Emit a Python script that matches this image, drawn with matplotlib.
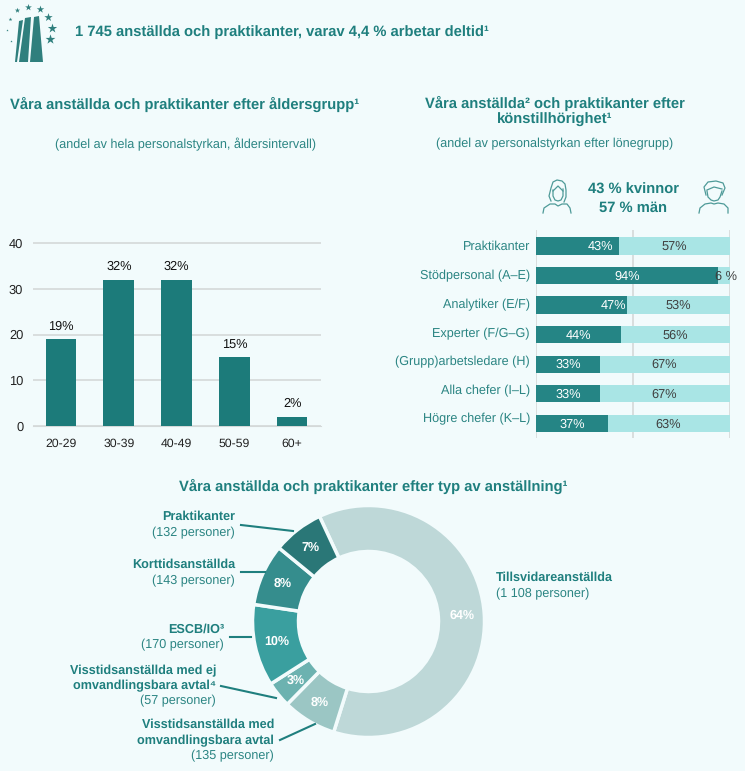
import matplotlib
matplotlib.use('Agg')
import matplotlib.pyplot as plt
from matplotlib.patches import Polygon
import numpy as np

plt.rcParams['font.family'] = ['Liberation Sans', 'DejaVu Sans']
plt.rcParams['text.hinting'] = 'none'
plt.rcParams['text.hinting_factor'] = 8

age_groups = ['20-29', '30-39', '40-49', '50-59', '60+']
age_values = [19, 32, 32, 15, 2]

grades = ['Praktikanter', 'Stödpersonal (A–E)', 'Analytiker (E/F)', 'Experter (F/G–G)',
          '(Grupp)arbetsledare (H)', 'Alla chefer (I–L)', 'Högre chefer (K–L)']
women = [43, 94, 47, 44, 33, 33, 37]
men = [57, 6, 53, 56, 67, 67, 63]
women_labels = ['43%', '94%', '47%', '44%', '33%', '33%', '37%']
men_labels = ['57%', '6 %', '53%', '56%', '67%', '67%', '63%']

# slice sizes as drawn in the picture, clockwise from the top
contract_shares = [61.8, 7.5, 3.6, 11.4, 8.6, 7.1]
contract_labels = ['64%', '8%', '3%', '10%', '8%', '7%']

W, H = 745, 771
BG = '#F2FBFC'
TEAL = '#1F7F7E'
TEXT = '#2B8583'
DARK = '#1C7B7A'
HEAD = 10.6
SMALL = 9.1

fig = plt.figure(figsize=(W / 100, H / 100), dpi=100, facecolor=BG)


def axes_px(left, top, right, bottom):
    return fig.add_axes([left / W, 1 - bottom / H, (right - left) / W, (bottom - top) / H])


# overlay in pixel coordinates for titles and icons
ov = fig.add_axes([0, 0, 1, 1], zorder=5)
ov.set_xlim(0, W)
ov.set_ylim(H, 0)
ov.axis('off')
ov.patch.set_alpha(0)

# logo
for pts in ([(15, 62), (17, 62), (23, 20), (19, 21)],
            [(19, 62), (28, 62), (31, 17), (25, 18)],
            [(30, 62), (43, 62), (39, 16), (34, 17)]):
    ov.add_patch(Polygon(pts, closed=True, color='#2F7F7D', lw=0))
for x, y, s in [(50, 39, 55), (52, 28, 50), (48, 17, 40), (40, 9, 32), (28, 7, 26),
                (17, 10, 16), (10, 19, 8), (7, 30, 3), (11, 41, 3)]:
    ov.scatter(x, y, s=s, marker='*', color='#2F7F7D', lw=0)

ov.text(75, 32, '1 745 anställda och praktikanter, varav 4,4 % arbetar deltid¹', color=TEAL,
        fontsize=HEAD, fontweight='bold', va='center')
ov.text(185, 104, 'Våra anställda och praktikanter efter åldersgrupp¹', color=TEAL,
        fontsize=HEAD, fontweight='bold', ha='center', va='center')
ov.text(186, 144, '(andel av hela personalstyrkan, åldersintervall)', color=TEXT,
        fontsize=SMALL, ha='center', va='center')
ov.text(555, 103, 'Våra anställda² och praktikanter efter', color=TEAL,
        fontsize=HEAD, fontweight='bold', ha='center', va='center')
ov.text(555, 120, 'könstillhörighet¹', color=TEAL,
        fontsize=HEAD, fontweight='bold', ha='center', va='center')
ov.text(555, 144, '(andel av personalstyrkan efter lönegrupp)', color=TEXT,
        fontsize=SMALL, ha='center', va='center')
ov.text(633, 190, '43 % kvinnor', color=TEAL, fontsize=HEAD, fontweight='bold', ha='center', va='center')
ov.text(633, 208, '57 % män', color=TEAL, fontsize=HEAD, fontweight='bold', ha='center', va='center')
ov.text(373, 486, 'Våra anställda och praktikanter efter typ av anställning¹', color=TEAL,
        fontsize=HEAD, fontweight='bold', ha='center', va='center')

# woman and man icons
ICON = '#4E9A98'
ov.plot([551, 549, 551, 553, 557, 562, 565, 566, 566, 564], [201, 196, 188, 182, 180, 181, 184, 190, 197, 202], color=ICON, lw=0.9)
ov.plot([553, 553, 555, 558, 561, 563, 563], [190, 196, 200, 201, 200, 196, 189], color=ICON, lw=0.9)
ov.plot([553, 558, 563], [191, 186, 191], color=ICON, lw=0.9)
ov.plot([543, 544, 550, 555, 558, 562, 567, 570, 571], [213, 208, 204, 204, 206, 204, 204, 208, 213], color=ICON, lw=0.9)
ov.plot([706, 704, 708, 716, 723, 725, 722], [195, 187, 182, 181, 183, 188, 195], color=ICON, lw=0.9)
ov.plot([707, 708, 711, 714, 718, 720, 722], [191, 197, 200, 201, 200, 197, 191], color=ICON, lw=0.9)
ov.plot([707, 714, 722], [190, 187, 189], color=ICON, lw=0.9)
ov.plot([699, 700, 705, 711, 714, 718, 724, 728, 728], [213, 208, 204, 203, 204, 203, 204, 208, 213], color=ICON, lw=0.9)

# age bar chart
ax = axes_px(33, 225, 321, 426)
ax.set_facecolor('none')
ax.bar(range(len(age_values)), age_values, width=0.53, color=DARK, zorder=3)
ax.set_xlim(-0.485, 4.5)
ax.set_ylim(0, 201 / 183 * 40)
ax.set_yticks([0, 10, 20, 30, 40])
ax.set_xticks(range(len(age_groups)))
ax.set_xticklabels(age_groups)
ax.tick_params(length=0, labelsize=8.8, labelcolor='#222222', pad=9)
ax.tick_params(axis='y', labelsize=9.3, pad=7)
ax.yaxis.grid(True, color='#D4D9D9', lw=1.2)
ax.set_axisbelow(True)
for s in ax.spines.values():
    s.set_visible(False)
ax.spines['bottom'].set_visible(True)
ax.spines['bottom'].set_color('#D4D9D9')
for i, v in enumerate(age_values):
    ax.text(i, v + 1.5, f'{v}%', ha='center', va='bottom', fontsize=9.2, color='#111111')

# gender bars
rows = range(len(grades))
bx = axes_px(536, 230, 730, 438)
bx.set_facecolor('none')
bx.barh(rows, women, height=0.585, color='#258585', zorder=3)
bx.barh(rows, men, left=women, height=0.585, color='#A9E5E5', zorder=3)
bx.set_xlim(0, 100)
bx.set_ylim(6 + 14.7 / 29.6, -16 / 29.6)
bx.set_xticks([0, 50, 100])
bx.set_yticks([])
bx.tick_params(length=0, labelbottom=False)
bx.xaxis.grid(True, color='#D4D9D9', lw=1.2)
bx.set_axisbelow(True)
for s in bx.spines.values():
    s.set_visible(False)

grade_label_y = [247, 276, 305, 334, 362, 391, 419]
bar_y = [246, 276, 305, 335, 364, 394, 424]
women_label_x = [600, 627, 613, 578, 568, 568, 572]
men_label_x = [674, 726, 678, 675, 664, 664, 668]
for i, name in enumerate(grades):
    ov.text(530, grade_label_y[i], name, color=TEXT, fontsize=SMALL, ha='right', va='center')
    ov.text(women_label_x[i], bar_y[i] + 1, women_labels[i], color='white', fontsize=9.2, ha='center', va='center')
    ov.text(men_label_x[i], bar_y[i] + 1, men_labels[i], color='#404040', fontsize=9.2, ha='center', va='center')

# donut
R = 116
cx = axes_px(368.5 - R, 621.5 - R, 368.5 + R, 621.5 + R)
wedge_colors = ['#BED8D8', '#9BC6C4', '#6CB2B0', '#3A9F9F', '#358D8D', '#2A7777']
wedges, _ = cx.pie(contract_shares, colors=wedge_colors, startangle=115, counterclock=False, radius=1,
                   wedgeprops=dict(width=46 / 116, edgecolor=BG, linewidth=2.5))
cx.set_xlim(-1, 1)
cx.set_ylim(-1, 1)
ang = 115.0
for share, lab in zip(contract_shares, contract_labels):
    mid = np.deg2rad(ang - share * 3.6 / 2)
    ang -= share * 3.6
    cx.text(0.81 * np.cos(mid), 0.81 * np.sin(mid), lab, color='white', fontsize=9, fontweight='bold',
            ha='center', va='center')


# donut labels
def label(x, lines, ha='right'):
    for yy, txt, bold in lines:
        ov.text(x, yy, txt, color=TEAL if bold else TEXT, fontsize=SMALL, ha=ha, va='center',
                fontweight='bold' if bold else 'normal')


label(235, [(517, 'Praktikanter', True), (533, '(132 personer)', False)])
label(235, [(565, 'Korttidsanställda', True), (581, '(143 personer)', False)])
label(224, [(629, 'ESCB/IO³', True), (645, '(170 personer)', False)])
label(216, [(671, 'Visstidsanställda med ej', True), (686, 'omvandlingsbara avtal⁴', True),
            (701, '(57 personer)', False)])
label(274, [(725, 'Visstidsanställda med', True), (741, 'omvandlingsbara avtal', True),
            (756, '(135 personer)', False)])
label(496, [(578, 'Tillsvidareanställda', True), (594, '(1 108 personer)', False)], ha='left')

for xs, ys in [((241, 293), (525, 531)), ((241, 265), (572, 572)), ((230, 251), (637, 637)),
               ((221, 276), (686, 698)), ((280, 315), (740, 724))]:
    ov.plot(xs, ys, color=TEAL, lw=1.5)

fig.savefig('out.png', dpi=100, facecolor=BG)
